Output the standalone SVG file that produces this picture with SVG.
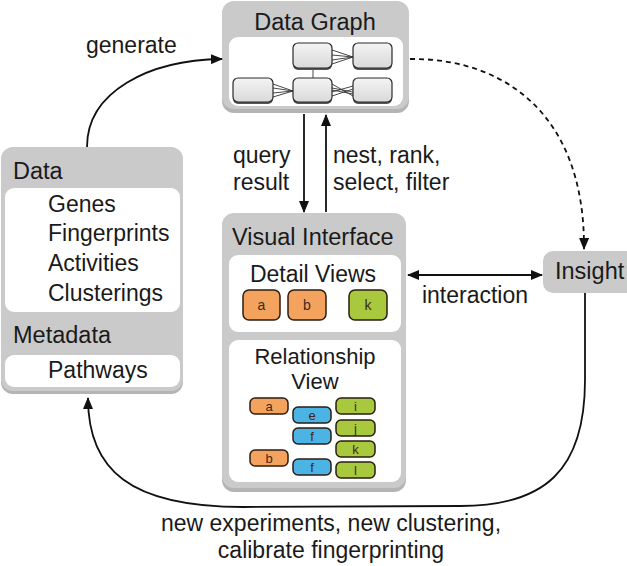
<svg xmlns="http://www.w3.org/2000/svg" width="627" height="566" viewBox="0 0 627 566">
  <defs>
    <linearGradient id="nodeFill" x1="0" y1="0" x2="0" y2="1">
      <stop offset="0" stop-color="#f4f4f4"/>
      <stop offset="1" stop-color="#d9d9d9"/>
    </linearGradient>
    <marker id="head" viewBox="0 0 12 10" refX="11" refY="5" markerWidth="12" markerHeight="10" markerUnits="userSpaceOnUse" orient="auto-start-reverse">
      <path d="M0,0 L12,5 L0,10 Z" fill="#111"/>
    </marker>
    <style>
      text { font-family: "Liberation Sans", Arial, sans-serif; fill: #1a1a1a; }
      .title { font-size: 23.5px; }
      .label { font-size: 23px; }
      .item { font-size: 23px; }
      .panel { fill: #cacaca; }
      .shadow { fill: #b4b4b4; }
      .inner { fill: #ffffff; }
      .gnode { fill: url(#nodeFill); stroke: #2a2a2a; stroke-width: 1.2; }
      .gshade { fill: #555; }
      .gedge { stroke: #333; stroke-width: 0.9; fill: none; }
      .chip { stroke: #2b1d10; stroke-width: 1.5; }
      .orange { fill: #f4a35e; }
      .green { fill: #a8c83e; }
      .blue { fill: #4cb4e4; }
      .chiptext { font-size: 13px; fill: #3a2a1a; text-anchor: middle; }
      .conn { stroke: #111; stroke-width: 1.8; fill: none; }
      .dashed { stroke-dasharray: 5 4; }
    </style>
  </defs>

  <!-- Data Graph panel with its miniature graph -->
  <g id="data-graph">
    <rect class="shadow" x="222" y="4" width="187" height="109" rx="12"/>
    <rect class="panel" x="222" y="1" width="187" height="108" rx="12"/>
    <text class="title" x="315" y="30" text-anchor="middle">Data Graph</text>
    <rect class="inner" x="229" y="37" width="174" height="69" rx="9"/>
    <g id="mini-graph">
      <line class="gedge" x1="313" y1="68" x2="313" y2="78"/>
      <line class="gedge" x1="332" y1="50" x2="353" y2="57"/>
      <line class="gedge" x1="332" y1="55" x2="353" y2="57"/>
      <line class="gedge" x1="332" y1="60" x2="353" y2="57"/>
      <line class="gedge" x1="332" y1="64" x2="353" y2="57"/>
      <line class="gedge" x1="273" y1="84" x2="293" y2="91"/>
      <line class="gedge" x1="273" y1="88" x2="293" y2="91"/>
      <line class="gedge" x1="273" y1="93" x2="293" y2="91"/>
      <line class="gedge" x1="273" y1="97" x2="293" y2="91"/>
      <line class="gedge" x1="332" y1="84" x2="353" y2="96"/>
      <line class="gedge" x1="332" y1="88" x2="353" y2="92"/>
      <line class="gedge" x1="332" y1="92" x2="353" y2="86"/>
      <line class="gedge" x1="332" y1="96" x2="353" y2="89"/>
      <line class="gedge" x1="332" y1="90" x2="353" y2="94"/>
      <rect class="gshade" x="293" y="45" width="39" height="25" rx="5"/>
      <rect class="gnode" x="293" y="43" width="39" height="25" rx="5"/>
      <rect class="gshade" x="353" y="45" width="39" height="25" rx="5"/>
      <rect class="gnode" x="353" y="43" width="39" height="25" rx="5"/>
      <rect class="gshade" x="233" y="80" width="40" height="24" rx="5"/>
      <rect class="gnode" x="233" y="78" width="40" height="24" rx="5"/>
      <rect class="gshade" x="293" y="80" width="39" height="24" rx="5"/>
      <rect class="gnode" x="293" y="78" width="39" height="24" rx="5"/>
      <rect class="gshade" x="353" y="80" width="39" height="24" rx="5"/>
      <rect class="gnode" x="353" y="78" width="39" height="24" rx="5"/>
    </g>
  </g>

  <!-- Data / Metadata panel -->
  <g id="data">
    <rect class="shadow" x="1" y="150" width="182" height="244" rx="12"/>
    <rect class="panel" x="1" y="147" width="182" height="244" rx="12"/>
    <text class="title" x="13" y="179">Data</text>
    <rect class="inner" x="5" y="188" width="175" height="124" rx="9"/>
    <text class="item" x="48" y="212">Genes</text>
    <text class="item" x="48" y="241">Fingerprints</text>
    <text class="item" x="48" y="271">Activities</text>
    <text class="item" x="48" y="301">Clusterings</text>
    <text class="title" x="13" y="343">Metadata</text>
    <rect class="inner" x="5" y="355" width="175" height="32" rx="9"/>
    <text class="item" x="48" y="378">Pathways</text>
  </g>

  <!-- Visual Interface panel -->
  <g id="visual-interface">
    <rect class="shadow" x="222" y="216" width="184" height="276" rx="12"/>
    <rect class="panel" x="222" y="213" width="184" height="275" rx="12"/>
    <text class="title" x="232" y="245">Visual Interface</text>

    <g id="detail-views">
      <rect class="inner" x="229" y="255" width="172" height="77" rx="9"/>
      <text class="label" x="313" y="282" text-anchor="middle">Detail Views</text>
      <rect class="chip orange" x="243" y="290" width="37" height="30" rx="6"/>
      <text class="chiptext" x="261.5" y="310" style="font-size:14px">a</text>
      <rect class="chip orange" x="288" y="290" width="38" height="30" rx="6"/>
      <text class="chiptext" x="307" y="310" style="font-size:14px">b</text>
      <rect class="chip green" x="349" y="290" width="38" height="30" rx="6"/>
      <text class="chiptext" x="368" y="310" style="font-size:14px">k</text>
    </g>

    <g id="relationship-view">
      <rect class="inner" x="229" y="340" width="172" height="142" rx="9"/>
      <text class="label" x="315" y="364" text-anchor="middle" style="font-size:22px">Relationship</text>
      <text class="label" x="315" y="389" text-anchor="middle" style="font-size:22px">View</text>
      <rect class="chip orange" x="250" y="398" width="38" height="16" rx="5"/>
      <text class="chiptext" x="269" y="411">a</text>
      <rect class="chip orange" x="250" y="450" width="38" height="16" rx="5"/>
      <text class="chiptext" x="269" y="463">b</text>
      <rect class="chip blue" x="293" y="407" width="38" height="16" rx="5"/>
      <text class="chiptext" x="312" y="420">e</text>
      <rect class="chip blue" x="293" y="428" width="38" height="16" rx="5"/>
      <text class="chiptext" x="312" y="441">f</text>
      <rect class="chip blue" x="293" y="459" width="38" height="16" rx="5"/>
      <text class="chiptext" x="312" y="472">f</text>
      <rect class="chip green" x="336" y="398" width="39" height="16" rx="5"/>
      <text class="chiptext" x="355.5" y="411">i</text>
      <rect class="chip green" x="336" y="420" width="39" height="16" rx="5"/>
      <text class="chiptext" x="355.5" y="433">j</text>
      <rect class="chip green" x="336" y="441" width="39" height="16" rx="5"/>
      <text class="chiptext" x="355.5" y="454">k</text>
      <rect class="chip green" x="336" y="462" width="39" height="16" rx="5"/>
      <text class="chiptext" x="355.5" y="475">l</text>
    </g>
  </g>

  <!-- Insight node -->
  <g id="insight">
    <rect class="panel" x="543" y="251" width="100" height="42" rx="10"/>
    <text class="title" x="555" y="279">Insight</text>
  </g>

  <!-- Connectors -->
  <g id="connectors">
    <path class="conn" d="M87,147 C87,92 148,60 222,59" marker-end="url(#head)"/>
    <path class="conn dashed" d="M410,59 C505,58 585,115 584,249" marker-end="url(#head)"/>
    <line class="conn" x1="304" y1="114" x2="304" y2="212" marker-end="url(#head)"/>
    <line class="conn" x1="326" y1="212" x2="326" y2="115" marker-end="url(#head)"/>
    <line class="conn" x1="408" y1="275" x2="542" y2="275" marker-start="url(#head)" marker-end="url(#head)"/>
    <path class="conn" d="M585,293 L585,380 C585,470 545,506 460,506 L243,507 C130,507 88,470 88,398" marker-end="url(#head)"/>
  </g>

  <!-- Connector labels -->
  <g id="labels">
    <text class="label" x="86" y="53">generate</text>
    <text class="label" x="233" y="163">query</text>
    <text class="label" x="233" y="190">result</text>
    <text class="label" x="333" y="163">nest, rank,</text>
    <text class="label" x="333" y="190">select, filter</text>
    <text class="label" x="475" y="303" text-anchor="middle">interaction</text>
    <text class="label" x="331" y="531" text-anchor="middle">new experiments, new clustering,</text>
    <text class="label" x="331" y="558" text-anchor="middle">calibrate fingerprinting</text>
  </g>
</svg>
